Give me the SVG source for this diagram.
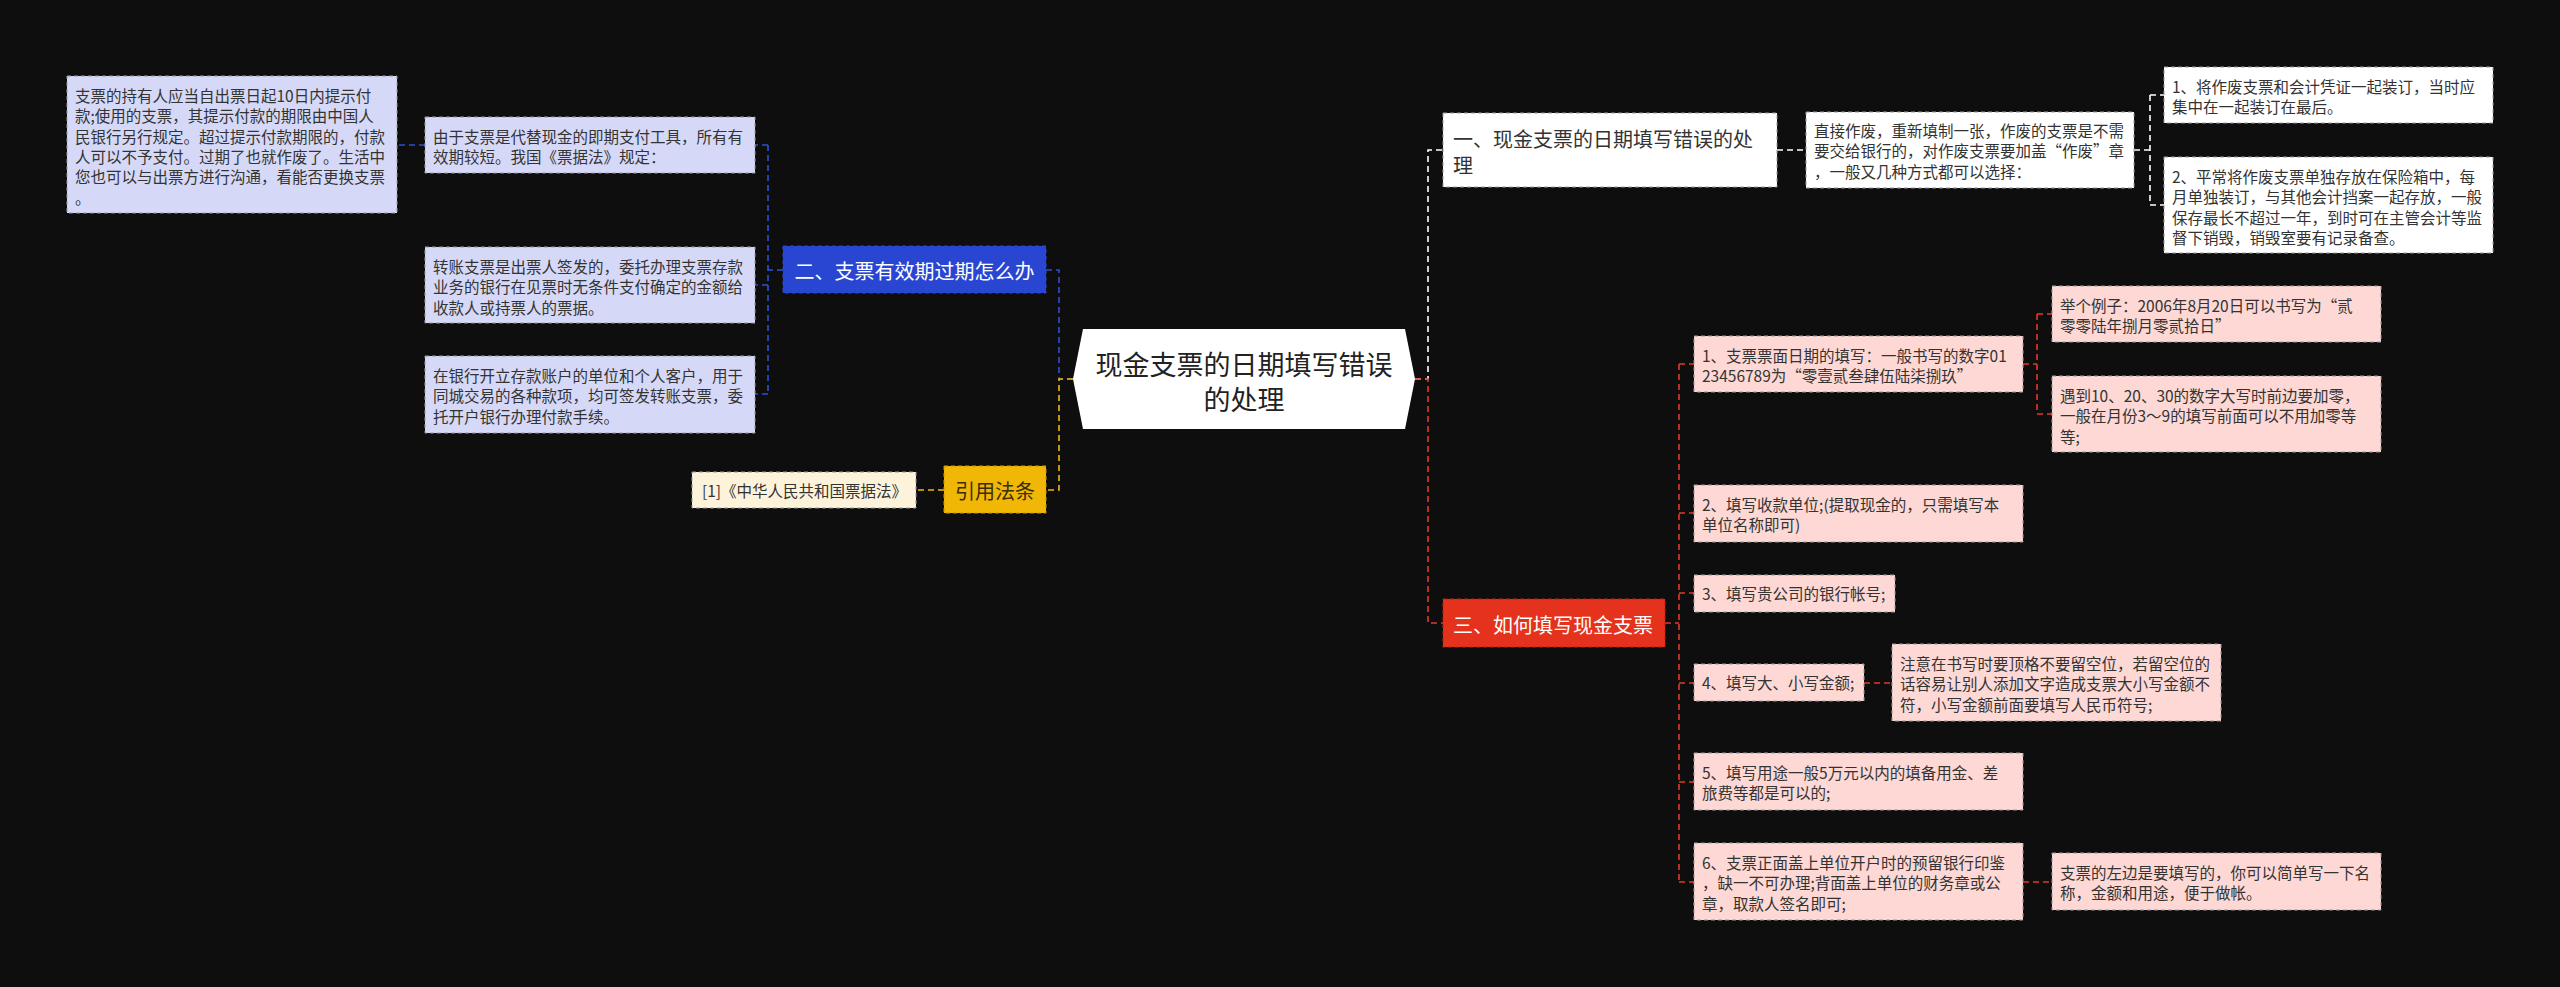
<svg xmlns="http://www.w3.org/2000/svg" width="2560" height="987" viewBox="0 0 2560 987">
<style>
text{font-family:"Noto Sans CJK SC","Liberation Sans",sans-serif;fill:#333;}
.s{font-size:15.5px;}
.m{font-size:20px;}
.c{font-size:27px;fill:#222;}
.w{fill:#fff;}
.bx{stroke:#9a9a9a;stroke-width:1;stroke-dasharray:4 3;}
.lav{fill:#d5d9f7;}
.pink{fill:#fdd8d4;}
.cream{fill:#fdf3da;}
.wh{fill:#fff;}
.ln{fill:none;stroke-width:1.6;stroke-dasharray:6 4;}
.lb{stroke:#2f4fd6;}
.ly{stroke:#f0b90b;}
.lw{stroke:#ffffff;}
.lr{stroke:#e3392a;}
</style>
<rect width="2560" height="987" fill="#0e0e0e"/>
<g id="connectors">
<path class="ln lb" d="M1073,379 H1059 V270 H1046"/>
<path class="ln lb" d="M783,270 H768 M768,145 V394 M768,145 H755 M768,285 H755 M768,394 H755 M425,145 H397"/>
<path class="ln ly" d="M1073,379 H1059 V490 H1046 M944,490 H916"/>
<path class="ln lw" d="M1415,379 H1428 V150 H1443 M1777,150 H1806 M2134,150 H2150 M2150,95 V205 M2150,95 H2164 M2150,205 H2164"/>
<path class="ln lr" d="M1415,379 H1428 V623 H1443 M1665,623 H1679 M1679,364 V882 M1679,364 H1694 M1679,513 H1694 M1679,593 H1694 M1679,683 H1694 M1679,782 H1694 M1679,882 H1694 M2023,364 H2037 M2037,314 V414 M2037,314 H2052 M2037,414 H2052 M1864,683 H1892 M2023,882 H2052"/>
</g>
<g id="center">
<polygon points="1083,329 1405,329 1415,379 1405,429 1083,429 1073,379" fill="#fff"/>
<text class="c" text-anchor="middle"><tspan x="1244" y="375">现金支票的日期填写错误</tspan><tspan x="1244" y="410">的处理</tspan></text>
</g>
<g id="n2">
<rect x="783" y="246" width="263" height="47" fill="#2946d3" class="bx" style="stroke:#2946d3"/>
<text class="m w" x="914.5" y="279" text-anchor="middle">二、支票有效期过期怎么办</text>
</g>
<g id="n2b">
<rect class="bx lav" x="425" y="117" width="330" height="56"/>
<text class="s"><tspan x="433" y="143">由于支票是代替现金的即期支付工具，所有有</tspan><tspan x="433" y="163.3">效期较短。我国《票据法》规定：</tspan></text>
</g>
<g id="n2a">
<rect class="bx lav" x="67" y="76" width="330" height="137"/>
<text class="s"><tspan x="75" y="102">支票的持有人应当自出票日起10日内提示付</tspan><tspan x="75" y="122.3">款;使用的支票，其提示付款的期限由中国人</tspan><tspan x="75" y="142.6">民银行另行规定。超过提示付款期限的，付款</tspan><tspan x="75" y="162.9">人可以不予支付。过期了也就作废了。生活中</tspan><tspan x="75" y="183.2">您也可以与出票方进行沟通，看能否更换支票</tspan><tspan x="75" y="203.5">。</tspan></text>
</g>
<g id="n2c">
<rect class="bx lav" x="425" y="247" width="330" height="76"/>
<text class="s"><tspan x="433" y="273">转账支票是出票人签发的，委托办理支票存款</tspan><tspan x="433" y="293.3">业务的银行在见票时无条件支付确定的金额给</tspan><tspan x="433" y="313.6">收款人或持票人的票据。</tspan></text>
</g>
<g id="n2d">
<rect class="bx lav" x="425" y="356" width="330" height="77"/>
<text class="s"><tspan x="433" y="382">在银行开立存款账户的单位和个人客户，用于</tspan><tspan x="433" y="402.3">同城交易的各种款项，均可签发转账支票，委</tspan><tspan x="433" y="422.6">托开户银行办理付款手续。</tspan></text>
</g>
<g id="ny">
<rect x="944" y="466" width="102" height="47" fill="#f0b707" class="bx" style="stroke:#c89800"/>
<text class="m" x="995" y="499" text-anchor="middle" style="fill:#3a2e05">引用法条</text>
</g>
<g id="nref">
<rect class="bx cream" x="692" y="472" width="224" height="36"/>
<text class="s" x="702" y="497">[1]《中华人民共和国票据法》</text>
</g>
<g id="n1">
<rect class="bx wh" x="1443" y="113" width="334" height="74"/>
<text class="m"><tspan x="1453" y="146.6">一、现金支票的日期填写错误的处</tspan><tspan x="1453" y="172.6">理</tspan></text>
</g>
<g id="n1a">
<rect class="bx wh" x="1806" y="112" width="328" height="76"/>
<text class="s"><tspan x="1814" y="137">直接作废，重新填制一张，作废的支票是不需</tspan><tspan x="1814" y="157.3">要交给银行的，对作废支票要加盖“作废”章</tspan><tspan x="1814" y="177.6">，一般又几种方式都可以选择：</tspan></text>
</g>
<g id="n1a1">
<rect class="bx wh" x="2164" y="67" width="329" height="56"/>
<text class="s"><tspan x="2172" y="93">1、将作废支票和会计凭证一起装订，当时应</tspan><tspan x="2172" y="113.3">集中在一起装订在最后。</tspan></text>
</g>
<g id="n1a2">
<rect class="bx wh" x="2164" y="157" width="329" height="96"/>
<text class="s"><tspan x="2172" y="183">2、平常将作废支票单独存放在保险箱中，每</tspan><tspan x="2172" y="203.3">月单独装订，与其他会计挡案一起存放，一般</tspan><tspan x="2172" y="223.6">保存最长不超过一年，到时可在主管会计等监</tspan><tspan x="2172" y="243.9">督下销毁，销毁室要有记录备查。</tspan></text>
</g>
<g id="n3">
<rect x="1443" y="599" width="222" height="48" fill="#e4321d" class="bx" style="stroke:#c02010"/>
<text class="m w" x="1453" y="632.5">三、如何填写现金支票</text>
</g>
<g id="p1">
<rect class="bx pink" x="1694" y="336" width="329" height="56"/>
<text class="s"><tspan x="1702" y="362">1、支票票面日期的填写：一般书写的数字01</tspan><tspan x="1702" y="382.3">23456789为“零壹贰叁肆伍陆柒捌玖”</tspan></text>
</g>
<g id="p1a">
<rect class="bx pink" x="2052" y="286" width="329" height="56"/>
<text class="s"><tspan x="2060" y="312">举个例子：2006年8月20日可以书写为“贰</tspan><tspan x="2060" y="332.3">零零陆年捌月零贰拾日”</tspan></text>
</g>
<g id="p1b">
<rect class="bx pink" x="2052" y="376" width="329" height="76"/>
<text class="s"><tspan x="2060" y="402">遇到10、20、30的数字大写时前边要加零，</tspan><tspan x="2060" y="422.3">一般在月份3～9的填写前面可以不用加零等</tspan><tspan x="2060" y="442.6">等;</tspan></text>
</g>
<g id="p2">
<rect class="bx pink" x="1694" y="485" width="329" height="57"/>
<text class="s"><tspan x="1702" y="511">2、填写收款单位;(提取现金的，只需填写本</tspan><tspan x="1702" y="531.3">单位名称即可)</tspan></text>
</g>
<g id="p3">
<rect class="bx pink" x="1694" y="575" width="201" height="37"/>
<text class="s" x="1702" y="599.5">3、填写贵公司的银行帐号;</text>
</g>
<g id="p4">
<rect class="bx pink" x="1694" y="664" width="170" height="37"/>
<text class="s" x="1702" y="688.5">4、填写大、小写金额;</text>
</g>
<g id="p4a">
<rect class="bx pink" x="1892" y="644" width="329" height="77"/>
<text class="s"><tspan x="1900" y="670">注意在书写时要顶格不要留空位，若留空位的</tspan><tspan x="1900" y="690.3">话容易让别人添加文字造成支票大小写金额不</tspan><tspan x="1900" y="710.6">符，小写金额前面要填写人民币符号;</tspan></text>
</g>
<g id="p5">
<rect class="bx pink" x="1694" y="753" width="329" height="57"/>
<text class="s"><tspan x="1702" y="779">5、填写用途一般5万元以内的填备用金、差</tspan><tspan x="1702" y="799.3">旅费等都是可以的;</tspan></text>
</g>
<g id="p6">
<rect class="bx pink" x="1694" y="843" width="329" height="77"/>
<text class="s"><tspan x="1702" y="869">6、支票正面盖上单位开户时的预留银行印鉴</tspan><tspan x="1702" y="889.3">，缺一不可办理;背面盖上单位的财务章或公</tspan><tspan x="1702" y="909.6">章，取款人签名即可;</tspan></text>
</g>
<g id="p6a">
<rect class="bx pink" x="2052" y="853" width="329" height="57"/>
<text class="s"><tspan x="2060" y="879">支票的左边是要填写的，你可以简单写一下名</tspan><tspan x="2060" y="899.3">称，金额和用途，便于做帐。</tspan></text>
</g>
</svg>
